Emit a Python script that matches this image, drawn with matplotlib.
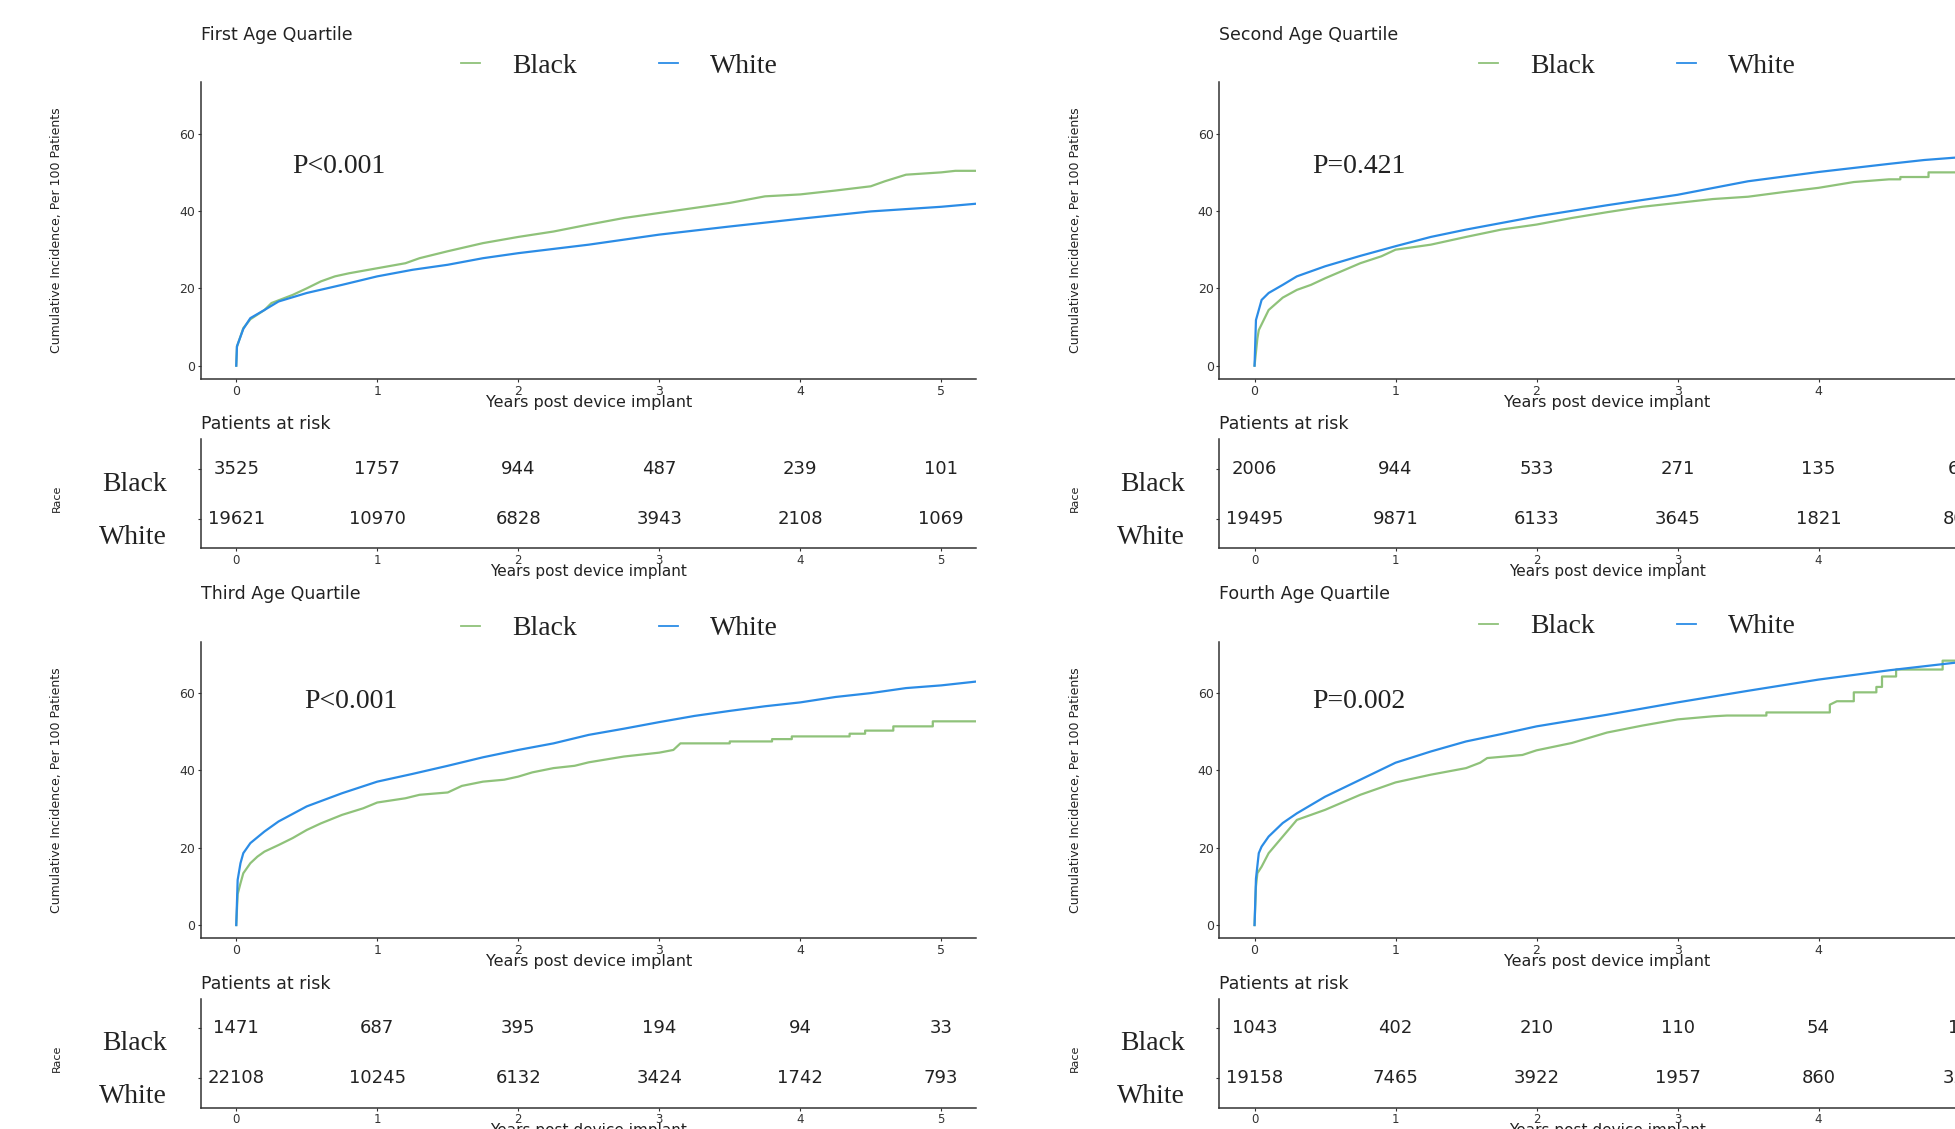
import matplotlib
matplotlib.use('Agg')
import matplotlib.pyplot as plt

plt.rcParams['font.family'] = ['DejaVu Sans']
SERIF = 'Liberation Serif'

GREEN = '#8fc27a'
BLUE = '#2b8ce6'
TEXT = '#222222'

years = [0, 1, 2, 3, 4, 5]
groups = ['Black', 'White']

titles = ['First Age Quartile', 'Second Age Quartile', 'Third Age Quartile', 'Fourth Age Quartile']
p_values = ['P<0.001', 'P=0.421', 'P<0.001', 'P=0.002']

# cumulative incidence (years, per 100 patients)
q1_black_t = [0, 0.005, 0.05, 0.1, 0.2, 0.25, 0.4, 0.5, 0.6, 0.7, 0.8, 1.0, 1.2, 1.3, 1.5, 1.75, 2.0, 2.25,
              2.5, 2.75, 3.0, 3.25, 3.5, 3.75, 4.0, 4.25, 4.5, 4.6, 4.75, 5.0, 5.1, 5.25]
q1_black_ci = [0, 4.9, 9.7, 12.0, 14.4, 16.2, 18.3, 20.0, 21.8, 23.1, 23.9, 25.2, 26.5, 27.8, 29.6, 31.7, 33.3, 34.7,
               36.5, 38.2, 39.5, 40.8, 42.1, 43.8, 44.3, 45.3, 46.4, 47.7, 49.4, 50.0, 50.4, 50.4]
q1_white_t = [0, 0.005, 0.05, 0.1, 0.2, 0.3, 0.5, 0.75, 1.0, 1.25, 1.5, 1.75, 2.0, 2.5, 3.0, 3.5, 4.0, 4.5, 5.0, 5.25]
q1_white_ci = [0, 5.0, 9.5, 12.3, 14.4, 16.6, 18.8, 20.9, 23.1, 24.8, 26.1, 27.8, 29.1, 31.3, 33.9, 36.0, 38.0, 39.9,
               41.1, 41.9]

q2_black_t = [0, 0.02, 0.03, 0.1, 0.2, 0.3, 0.4, 0.5, 0.75, 0.9, 1.0, 1.25, 1.5, 1.75, 2.0, 2.25, 2.5, 2.75, 3.0,
              3.25, 3.5, 3.75, 4.0, 4.25, 4.5, 4.58, 4.58, 4.78, 4.78, 5.0]
q2_black_ci = [0, 7.0, 9.2, 14.4, 17.6, 19.6, 20.9, 22.6, 26.5, 28.3, 30.0, 31.3, 33.3, 35.2, 36.5, 38.2, 39.7, 41.1,
               42.1, 43.1, 43.7, 44.9, 46.0, 47.5, 48.2, 48.2, 48.8, 48.8, 50.0, 50.0]
q2_white_t = [0, 0.01, 0.05, 0.1, 0.2, 0.3, 0.5, 0.75, 1.0, 1.25, 1.5, 2.0, 2.5, 3.0, 3.5, 4.0, 4.5, 4.75, 5.0]
q2_white_ci = [0, 11.8, 17.0, 18.8, 20.9, 23.1, 25.7, 28.4, 30.9, 33.3, 35.2, 38.6, 41.5, 44.2, 47.7, 50.1, 52.2,
               53.2, 53.9]

q3_black_t = [0, 0.01, 0.03, 0.05, 0.1, 0.15, 0.2, 0.3, 0.4, 0.5, 0.6, 0.75, 0.9, 1.0, 1.2, 1.3, 1.5, 1.6, 1.75,
              1.9, 2.0, 2.1, 2.25, 2.4, 2.5, 2.75, 3.0, 3.1, 3.15, 3.5, 3.5, 3.8, 3.8, 3.94, 3.94, 4.35, 4.35,
              4.46, 4.46, 4.66, 4.66, 4.94, 4.94, 5.25]
q3_black_ci = [0, 8.0, 10.8, 13.4, 16.0, 17.7, 19.0, 20.7, 22.5, 24.6, 26.3, 28.5, 30.2, 31.7, 32.8, 33.7, 34.3,
               36.0, 37.1, 37.6, 38.4, 39.5, 40.6, 41.2, 42.1, 43.6, 44.6, 45.3, 47.0, 47.0, 47.5, 47.5, 48.1,
               48.1, 48.8, 48.8, 49.5, 49.5, 50.3, 50.3, 51.4, 51.4, 52.7, 52.7]
q3_white_t = [0, 0.01, 0.03, 0.05, 0.1, 0.2, 0.3, 0.5, 0.75, 1.0, 1.25, 1.5, 1.75, 2.0, 2.25, 2.5, 2.75, 3.0, 3.25,
              3.5, 3.75, 4.0, 4.25, 4.5, 4.75, 5.0, 5.25]
q3_white_ci = [0, 11.7, 16.0, 18.6, 21.2, 24.2, 26.8, 30.7, 34.1, 37.1, 39.1, 41.2, 43.4, 45.3, 47.0, 49.2, 50.8,
               52.5, 54.1, 55.4, 56.6, 57.6, 59.0, 60.0, 61.3, 62.0, 63.0]

q4_black_t = [0, 0.01, 0.02, 0.05, 0.1, 0.2, 0.3, 0.4, 0.5, 0.75, 1.0, 1.25, 1.5, 1.6, 1.65, 1.9, 2.0, 2.25, 2.5,
              2.75, 3.0, 3.25, 3.35, 3.63, 3.63, 4.08, 4.08, 4.13, 4.25, 4.25, 4.41, 4.41, 4.45, 4.45, 4.55, 4.55,
              4.88, 4.88, 5.0]
q4_black_ci = [0, 10.0, 13.4, 15.1, 18.6, 22.9, 27.2, 28.5, 29.8, 33.7, 36.9, 38.9, 40.6, 42.0, 43.2, 44.0, 45.2,
               47.1, 49.8, 51.6, 53.2, 54.0, 54.2, 54.2, 55.0, 55.0, 57.0, 57.9, 57.9, 60.2, 60.2, 61.6, 61.6,
               64.3, 64.3, 66.1, 66.1, 68.4, 68.4]
q4_white_t = [0, 0.01, 0.03, 0.05, 0.1, 0.2, 0.3, 0.5, 0.75, 1.0, 1.25, 1.5, 1.75, 2.0, 2.5, 3.0, 3.5, 4.0, 4.5, 5.0]
q4_white_ci = [0, 12.0, 18.6, 20.3, 22.9, 26.4, 28.9, 33.2, 37.6, 42.0, 44.9, 47.5, 49.4, 51.4, 54.4, 57.6, 60.6,
               63.5, 65.9, 68.0]

# patients at risk
q1_risk_black = [3525, 1757, 944, 487, 239, 101]
q1_risk_white = [19621, 10970, 6828, 3943, 2108, 1069]
q2_risk_black = [2006, 944, 533, 271, 135, 65]
q2_risk_white = [19495, 9871, 6133, 3645, 1821, 806]
q3_risk_black = [1471, 687, 395, 194, 94, 33]
q3_risk_white = [22108, 10245, 6132, 3424, 1742, 793]
q4_risk_black = [1043, 402, 210, 110, 54, 19]
q4_risk_white = [19158, 7465, 3922, 1957, 860, 325]

curves = [
    ((q1_black_t, q1_black_ci), (q1_white_t, q1_white_ci)),
    ((q2_black_t, q2_black_ci), (q2_white_t, q2_white_ci)),
    ((q3_black_t, q3_black_ci), (q3_white_t, q3_white_ci)),
    ((q4_black_t, q4_black_ci), (q4_white_t, q4_white_ci)),
]
risks = [
    (q1_risk_black, q1_risk_white),
    (q2_risk_black, q2_risk_white),
    (q3_risk_black, q3_risk_white),
    (q4_risk_black, q4_risk_white),
]

W, H = 1956, 1129
fig = plt.figure(figsize=(W / 100, H / 100), dpi=100)


def px(x, y):
    return x / W, 1 - y / H


def box(left, top, width, height):
    return [left / W, 1 - (top + height) / H, width / W, height / H]


AX_W = 775.5
MAIN_H = 296.7
TAB_OFF = 357.0
TAB_H = 109.0

col_left = [201.0, 1219.3]
row_top = [82.3, 641.7]
p_pos = [(0.40, 51.5), (0.41, 51.5), (0.48, 57.8), (0.41, 57.8)]
legend_dy = [16, 16, 13, 15]


def style_axes(ax, size):
    for side in ('top', 'right'):
        ax.spines[side].set_visible(False)
    for side in ('left', 'bottom'):
        ax.spines[side].set_color('#333333')
        ax.spines[side].set_linewidth(1.1)
    ax.tick_params(length=2.5, width=0.8, pad=1.5, labelsize=size, colors='#333333')


for i in range(4):
    left = col_left[i % 2]
    top = row_top[i // 2]

    ax = fig.add_axes(box(left, top, AX_W, MAIN_H))
    style_axes(ax, 9)
    (bt, bc), (wt, wc) = curves[i]
    lb, = ax.plot(bt, bc, color=GREEN, lw=1.6, label=groups[0])
    lw, = ax.plot(wt, wc, color=BLUE, lw=1.6, label=groups[1])
    ax.set_xlim(-0.25, 5.25)
    ax.set_ylim(-3.45, 73.3)
    ax.set_xticks(years)
    ax.set_yticks([0, 20, 40, 60])

    ax.text(p_pos[i][0], p_pos[i][1], p_values[i], family=SERIF, fontsize=20,
            color=TEXT, ha='left', va='center')

    ax.legend(handles=[lb, lw], loc='center left',
              bbox_to_anchor=(260 / AX_W, 1 + legend_dy[i] / MAIN_H),
              ncol=2, frameon=False, prop={'family': SERIF, 'size': 20},
              handlelength=0.68, handletextpad=1.15, columnspacing=2.96,
              borderpad=0, borderaxespad=0, labelcolor=TEXT)
    for h in ax.get_legend().legend_handles:
        h.set_linewidth(1.3)

    fig.text(*px(left, top - 47.5), titles[i], fontsize=12.5, color=TEXT, ha='left', va='center')
    fig.text(*px(left + AX_W / 2, top + MAIN_H + 23), 'Years post device implant',
             fontsize=11.5, color=TEXT, ha='center', va='center')
    fig.text(*px(left - 144, top + MAIN_H / 2), 'Cumulative Incidence, Per 100 Patients',
             fontsize=9, color=TEXT, rotation=90, ha='center', va='center')

    # risk table
    tab_top = top + TAB_OFF
    at = fig.add_axes(box(left, tab_top, AX_W, TAB_H))
    style_axes(at, 8.5)
    at.set_xlim(-0.25, 5.25)
    at.set_ylim(0.4, 2.6)
    at.set_xticks(years)
    at.set_yticks([1, 2])
    at.set_yticklabels(['', ''])
    rb, rw = risks[i]
    for x, nb, nw in zip(years, rb, rw):
        at.text(x, 2, str(nb), fontsize=13, color=TEXT, ha='center', va='center')
        at.text(x, 1, str(nw), fontsize=13, color=TEXT, ha='center', va='center')

    fig.text(*px(left, tab_top - 15), 'Patients at risk', fontsize=12.5, color=TEXT,
             ha='left', va='center')
    fig.text(*px(left + AX_W / 2, tab_top + TAB_H + 23), 'Years post device implant',
             fontsize=11, color=TEXT, ha='center', va='center')
    row_black = tab_top + TAB_H - 1.6 * TAB_H / 2.2
    row_white = tab_top + TAB_H - 0.6 * TAB_H / 2.2
    fig.text(*px(left - 34, row_black + 15), groups[0], family=SERIF, fontsize=20, color=TEXT,
             ha='right', va='center')
    fig.text(*px(left - 34, row_white + 19), groups[1], family=SERIF, fontsize=20, color=TEXT,
             ha='right', va='center')
    fig.text(*px(left - 144, tab_top + TAB_H / 2 + 5), 'Race', fontsize=8, color=TEXT,
             rotation=90, ha='center', va='center')

fig.savefig('out.png', dpi=100, facecolor='white')
